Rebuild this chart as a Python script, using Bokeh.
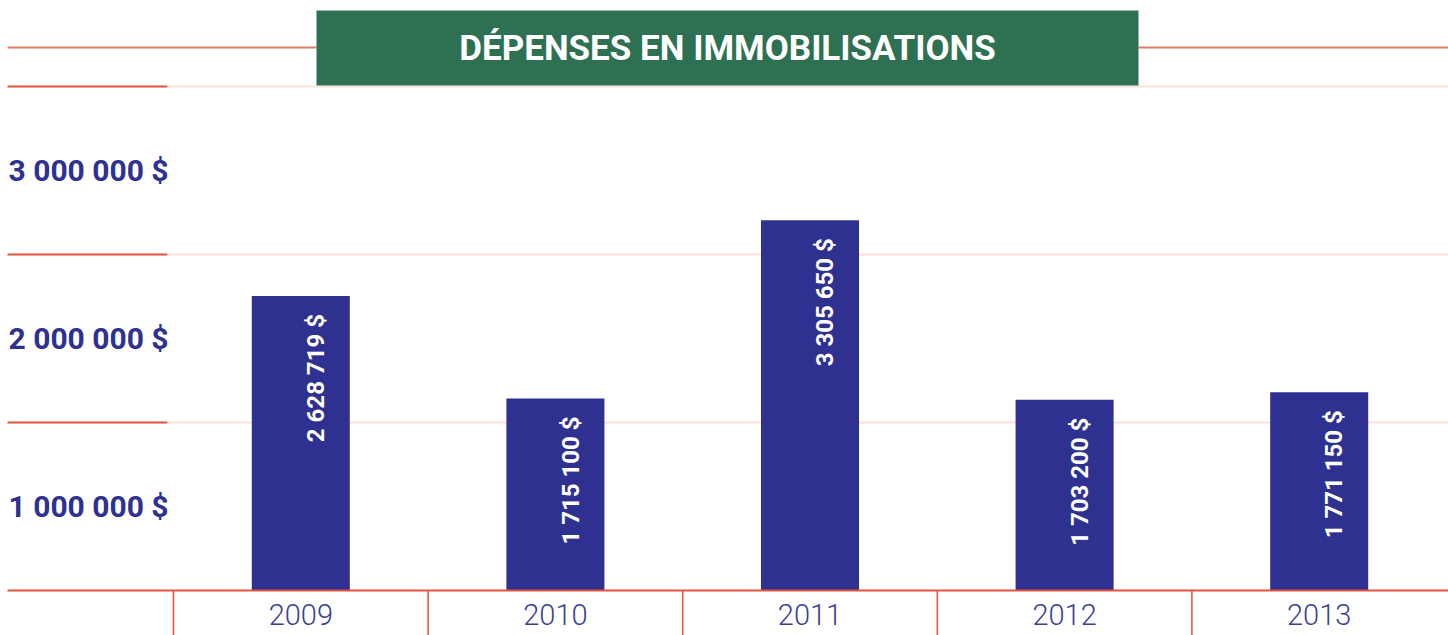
import numpy as np
from bokeh.plotting import figure
from bokeh.models import Range1d, ColumnDataSource
from bokeh.core.properties import value
from bokeh.embed import file_html
from bokeh.resources import INLINE

# ---------------- data ----------------
title = "DÉPENSES EN IMMOBILISATIONS"
years = ["2009", "2010", "2011", "2012", "2013"]
amounts = [2628719, 1715100, 3305650, 1703200, 1771150]
amount_labels = ["2 628 719 $", "1 715 100 $", "3 305 650 $", "1 703 200 $", "1 771 150 $"]
y_tick_values = [750000, 2250000, 3750000]
y_tick_labels = ["1 000 000 $", "2 000 000 $", "3 000 000 $"]
grid_values = [1500000, 3000000, 4500000]

# ---------------- layout helpers ----------------
W, H = 1448, 635
CAT_W = 254.6          # pixels per category
X0_PX = 173            # left boundary of first category
BASE_PX = 590          # pixel row of value 0
PX_PER_UNIT = 168 / 1.5e6

def xd(px):
    return (px - X0_PX) / CAT_W - 0.5

def yd(py):
    return (BASE_PX - py) / PX_PER_UNIT

NAVY = "#2e3190"
GREEN = "#2e7152"
RED = "#e2553a"
SALMON = "#e07d66"
PINK = "#fbe1da"

idx = np.arange(len(years))

p = figure(width=W, height=H, x_range=Range1d(xd(0), xd(W)), y_range=Range1d(yd(H), yd(0)),
           output_backend="svg", toolbar_location=None, min_border=0,
           x_axis_type=None, y_axis_type=None)
p.grid.visible = False
p.outline_line_color = None
p.background_fill_color = "white"
p.border_fill_color = "white"

# gridlines: short dark segment on the left, pale line across the plot
p.segment(x0=[xd(7)] * 3, x1=[xd(167)] * 3, y0=grid_values, y1=grid_values, line_color=RED, line_width=2)
p.segment(x0=[xd(167)] * 3, x1=[xd(W)] * 3, y0=grid_values, y1=grid_values, line_color=PINK, line_width=2)

# bars
src = ColumnDataSource(dict(x=idx, top=amounts, lab=amount_labels,
                            lx=idx + 0.06,
                            ly=np.array(amounts) - 18 / PX_PER_UNIT))
p.vbar(x="x", top="top", bottom=0, width=0.385, source=src, fill_color=NAVY, line_color=None)
p.text(x="lx", y="ly", text="lab", source=src, angle=np.pi / 2, text_align="right",
       text_baseline="middle", text_color="white", text_font=value("Roboto"),
       text_font_style="bold", text_font_size="24px")

# baseline and category separators
p.segment(x0=[xd(7)], x1=[xd(W)], y0=[0], y1=[0], line_color=RED, line_width=2)
p.segment(x0=idx - 0.5, x1=idx - 0.5, y0=[0] * 5, y1=[yd(H)] * 5, line_color=RED, line_width=1.5)

# category labels
p.text(x=idx, y=[yd(614)] * 5, text=years, text_align="center", text_baseline="middle",
       text_color="#3b3f99", text_font=value("Roboto Light"), text_font_size="29px")

# value labels on the left
p.text(x=[xd(8)] * 3, y=y_tick_values, text=y_tick_labels, text_align="left", text_baseline="middle",
       text_color=NAVY, text_font=value("Roboto"), text_font_style="bold", text_font_size="30px")

# title banner
p.segment(x0=[xd(7), xd(1138)], x1=[xd(316), xd(W)], y0=[yd(47)] * 2, y1=[yd(47)] * 2,
          line_color=SALMON, line_width=2)
p.quad(left=[xd(316)], right=[xd(1138)], top=[yd(10)], bottom=[yd(85)], fill_color=GREEN, line_color=None)
p.text(x=[xd(727)], y=[yd(48)], text=[title], text_align="center", text_baseline="middle",
       text_color="white", text_font=value("Roboto"), text_font_style="bold",
       text_font_size="35px")

open("out.html", "w").write(file_html(p, INLINE))
